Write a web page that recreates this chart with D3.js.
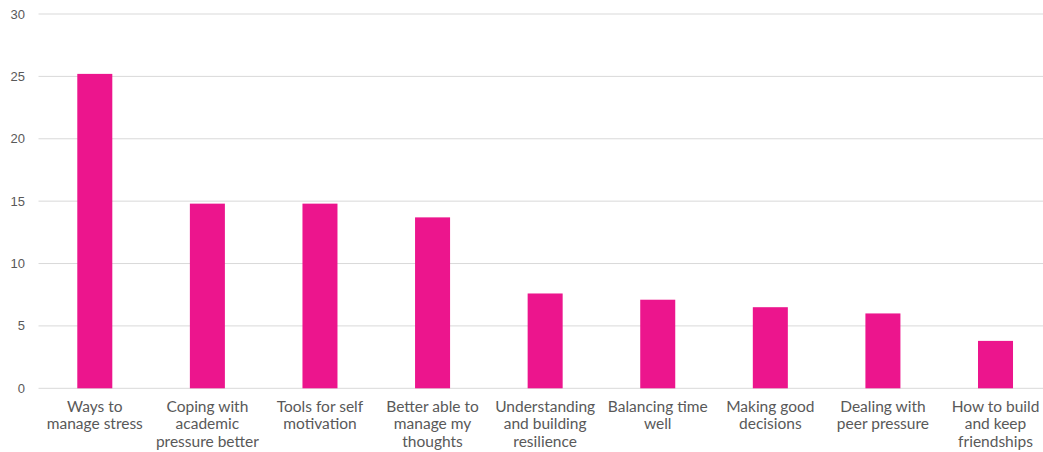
<!DOCTYPE html>
<html>
<head>
<meta charset="utf-8">
<script src="https://cdn.jsdelivr.net/npm/d3@7"></script>
<style>
  body { margin: 0; background: #fff; }
  svg { display: block; }
</style>
</head>
<body>
<svg width="1043" height="452"></svg>
<script>
// category labels, one array per label line
const categories = [
  ['Ways to', 'manage stress'],
  ['Coping with', 'academic', 'pressure better'],
  ['Tools for self', 'motivation'],
  ['Better able to', 'manage my', 'thoughts'],
  ['Understanding', 'and building', 'resilience'],
  ['Balancing time', 'well'],
  ['Making good', 'decisions'],
  ['Dealing with', 'peer pressure'],
  ['How to build', 'and keep', 'friendships']
];
const values = [25.2, 14.8, 14.8, 13.7, 7.6, 7.1, 6.5, 6.0, 3.8];
const yTicks = [0, 5, 10, 15, 20, 25, 30];

const svg = d3.select('svg');
const keys = categories.map(d => d.join(' '));

const x = d3.scaleBand()
  .domain(keys)
  .range([38.5, 1051.8])
  .paddingInner(0.689)
  .paddingOuter(0.3445);

const y = d3.scaleLinear()
  .domain([0, 30])
  .range([388.3, 14]);

// gridlines
svg.append('g')
  .selectAll('line')
  .data(yTicks)
  .join('line')
  .attr('x1', 38.5)
  .attr('x2', 1043)
  .attr('y1', d => y(d))
  .attr('y2', d => y(d))
  .attr('stroke', '#d9d9d9')
  .attr('stroke-width', 1);

// y labels
svg.append('g')
  .selectAll('text')
  .data(yTicks)
  .join('text')
  .attr('x', 25)
  .attr('y', d => y(d))
  .attr('dy', '0.35em')
  .attr('text-anchor', 'end')
  .attr('font-family', 'Liberation Sans, Arial, sans-serif')
  .attr('font-size', 13)
  .attr('fill', '#595959')
  .text(d => d);

// bars
svg.append('g')
  .selectAll('rect')
  .data(values)
  .join('rect')
  .attr('x', (d, i) => x(keys[i]))
  .attr('width', x.bandwidth())
  .attr('y', d => y(d))
  .attr('height', d => y(0) - y(d))
  .attr('fill', '#ec158d');

// category labels
const lab = svg.append('g')
  .selectAll('text')
  .data(categories)
  .join('text')
  .attr('x', (d, i) => x(keys[i]) + x.bandwidth() / 2)
  .attr('y', 411.5)
  .attr('text-anchor', 'middle')
  .attr('font-family', 'Lato, sans-serif')
  .attr('font-size', 15.5)
  .attr('fill', '#595959');

lab.selectAll('tspan')
  .data(d => d)
  .join('tspan')
  .attr('x', function() { return this.parentNode.getAttribute('x'); })
  .attr('dy', (d, i) => i === 0 ? 0 : 17.5)
  .text(d => d);
</script>
</body>
</html>
